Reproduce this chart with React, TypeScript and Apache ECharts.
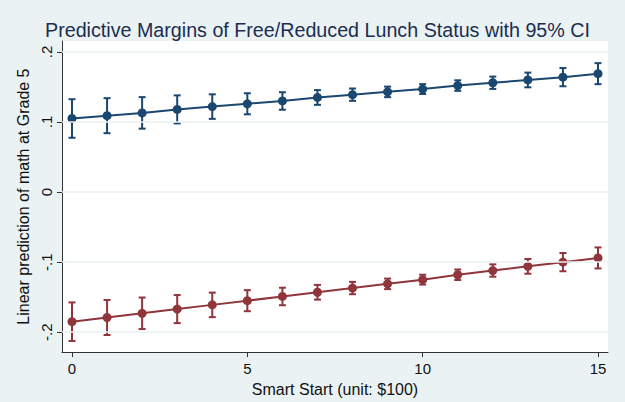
import React, { useEffect, useRef } from "react";
import * as echarts from "echarts";

const smartStart = [0, 1, 2, 3, 4, 5, 6, 7, 8, 9, 10, 11, 12, 13, 14, 15];
const blueMargin = [0.105, 0.109, 0.113, 0.118, 0.122, 0.126, 0.13, 0.135, 0.139, 0.143, 0.147, 0.152, 0.156, 0.16, 0.164, 0.169];
const blueLower = [0.0775, 0.084, 0.0905, 0.098, 0.1045, 0.111, 0.1175, 0.1245, 0.1302, 0.1355, 0.14, 0.1445, 0.1472, 0.1495, 0.151, 0.154];
const blueUpper = [0.1325, 0.134, 0.1355, 0.138, 0.1395, 0.141, 0.1425, 0.1455, 0.1478, 0.1505, 0.154, 0.1595, 0.1648, 0.1705, 0.177, 0.184];
const redMargin = [-0.185, -0.179, -0.173, -0.167, -0.161, -0.155, -0.149, -0.143, -0.137, -0.131, -0.125, -0.118, -0.112, -0.106, -0.1, -0.094];
const redLower = [-0.2125, -0.204, -0.1955, -0.187, -0.1785, -0.17, -0.1615, -0.1535, -0.1458, -0.1385, -0.132, -0.1255, -0.1208, -0.1165, -0.113, -0.109];
const redUpper = [-0.1575, -0.154, -0.1505, -0.147, -0.1435, -0.14, -0.1365, -0.1325, -0.1282, -0.1235, -0.118, -0.1105, -0.1032, -0.0955, -0.087, -0.079];
const xTicks = [0, 5, 10, 15];
const yTicks = [-0.2, -0.1, 0, 0.1, 0.2];
const yTickLabels = ["-.2", "-.1", "0", ".1", ".2"];

const BLUE = "#1a476f";
const RED = "#90353b";
const BG = "#eaf2f3";
const AXIS = "#333";
const FONT = "Liberation Sans, Arial, sans-serif";

function errorBars(name: string, lower: number[], upper: number[], color: string) {
  return {
    type: "custom",
    name,
    silent: true,
    z: 2,
    data: smartStart.map((x, i) => [x, lower[i], upper[i]]),
    encode: { x: 0, y: [1, 2] },
    renderItem: (params: any, api: any) => {
      const x = api.value(0);
      const pLo = api.coord([x, api.value(1)]);
      const pHi = api.coord([x, api.value(2)]);
      const w = 3.5;
      const style = { stroke: color, lineWidth: 2 };
      return {
        type: "group",
        children: [
          { type: "line", shape: { x1: pLo[0], y1: pLo[1], x2: pHi[0], y2: pHi[1] }, style },
          { type: "line", shape: { x1: pLo[0] - w, y1: pLo[1], x2: pLo[0] + w, y2: pLo[1] }, style },
          { type: "line", shape: { x1: pHi[0] - w, y1: pHi[1], x2: pHi[0] + w, y2: pHi[1] }, style },
        ],
      };
    },
  };
}

export default function App() {
  const ref = useRef<HTMLDivElement>(null);
  useEffect(() => {
    if (!ref.current) return;
    const chart = echarts.init(ref.current, undefined, { renderer: "svg" });
    chart.setOption({
      animation: false,
      backgroundColor: BG,
      title: {
        text: "Predictive Margins of Free/Reduced Lunch Status with 95% CI",
        left: 40,
        top: 15,
        textStyle: { fontFamily: FONT, fontSize: 19.7, fontWeight: "normal", color: "#1c2d50" },
      },
      grid: {
        left: 62,
        right: 17,
        top: 41,
        bottom: 49,
        show: true,
        backgroundColor: "#ffffff",
        borderWidth: 0,
      },
      xAxis: {
        type: "value",
        min: -0.285,
        max: 15.285,
        name: "Smart Start (unit: $100)",
        nameLocation: "middle",
        nameGap: 24,
        nameTextStyle: { fontFamily: FONT, fontSize: 16, color: "#111" },
        axisLine: { show: true, onZero: false, lineStyle: { color: AXIS, width: 1 } },
        axisTick: { show: true, customValues: xTicks, length: 5, lineStyle: { color: AXIS } },
        axisLabel: {
          customValues: xTicks,
          margin: 9,
          fontFamily: FONT,
          fontSize: 15,
          color: "#111",
        },
        splitLine: { show: false },
      },
      yAxis: {
        type: "value",
        min: -0.2284,
        max: 0.2156,
        name: "Linear prediction of math at Grade 5",
        nameLocation: "middle",
        nameGap: 24,
        nameTextStyle: { fontFamily: FONT, fontSize: 16, color: "#111" },
        axisLine: { show: true, onZero: false, lineStyle: { color: AXIS, width: 1 } },
        axisTick: { show: true, customValues: yTicks, length: 5, lineStyle: { color: AXIS } },
        axisLabel: {
          customValues: yTicks,
          rotate: 90,
          margin: 8,
          fontFamily: FONT,
          fontSize: 15,
          color: "#111",
          formatter: (v: number) => {
            const i = yTicks.findIndex((t) => Math.abs(t - v) < 1e-9);
            return i >= 0 ? yTickLabels[i] : "";
          },
        },
        splitLine: { show: false },
      },
      series: [
        {
          type: "line",
          name: "grid",
          data: [],
          silent: true,
          z: 1,
          markLine: {
            silent: true,
            symbol: ["none", "none"],
            label: { show: false },
            lineStyle: { color: BG, width: 1.5, type: "solid" },
            data: yTicks.map((t) => ({ yAxis: t })),
          },
        },
        errorBars("blueCI", blueLower, blueUpper, BLUE),
        errorBars("redCI", redLower, redUpper, RED),
        {
          type: "line",
          name: "Not FRL",
          data: smartStart.map((x, i) => [x, blueMargin[i]]),
          symbol: "circle",
          symbolSize: 9,
          lineStyle: { color: BLUE, width: 2 },
          itemStyle: { color: BLUE },
          z: 3,
        },
        {
          type: "line",
          name: "FRL",
          data: smartStart.map((x, i) => [x, redMargin[i]]),
          symbol: "circle",
          symbolSize: 9,
          lineStyle: { color: RED, width: 2 },
          itemStyle: { color: RED },
          z: 3,
        },
      ],
    });
    return () => chart.dispose();
  }, []);
  return <div ref={ref} style={{ width: 625, height: 402, position: "absolute", left: 0, top: 0 }} />;
}
